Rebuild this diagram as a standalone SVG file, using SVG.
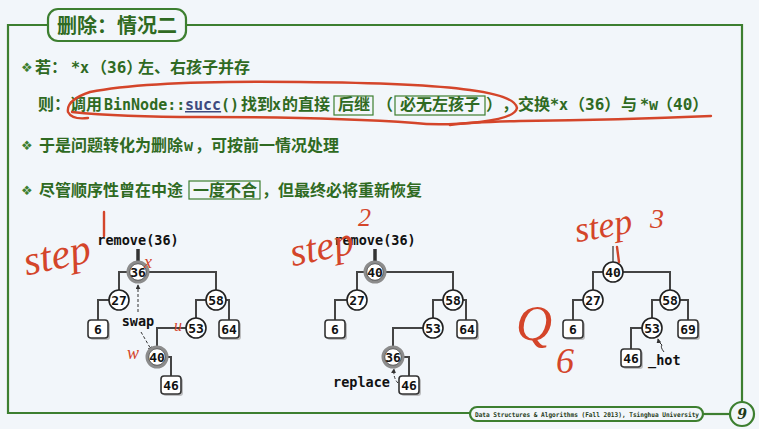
<svg xmlns="http://www.w3.org/2000/svg" width="759" height="429" viewBox="0 0 759 429">
<defs>
<style>
.frame{fill:none;stroke:#3d7f30;stroke-width:2.2}
.t{font-family:'DejaVu Sans Mono','Noto Sans CJK SC',monospace;font-weight:bold;font-size:16px;fill:#2f6a22}
.m{font-family:'DejaVu Sans Mono',monospace;font-size:15px}
.bul{font-family:'DejaVu Sans',sans-serif;font-size:13px;fill:#3d7f30}
.wbox{fill:none;stroke:#3d7f30;stroke-width:1.2}
.edge{fill:none;stroke:#444;stroke-width:2}
.c{fill:#fff;stroke:#222;stroke-width:1.6}
.cg{fill:#fff;stroke:#8c8c8c;stroke-width:3}
.cgi{fill:none;stroke:#333;stroke-width:0.8}
.b{fill:#fff;stroke:#333;stroke-width:1.6}
.bs{fill:#999;opacity:0.6}
.nt{font-family:'DejaVu Sans Mono',monospace;font-weight:bold;font-size:13px;fill:#111;text-anchor:middle}
.lbl{font-family:'DejaVu Sans Mono',monospace;font-weight:bold;font-size:13.5px;fill:#111}
.dash{fill:none;stroke:#333;stroke-width:1;stroke-dasharray:3 2}
.red{fill:none;stroke:#d4452a;stroke-width:2.4;stroke-linecap:round;stroke-linejoin:round}
.rt{font-family:'Liberation Serif',serif;font-style:italic;fill:#d4452a}
</style>
<marker id="ah" viewBox="0 0 6 6" refX="5" refY="3" markerWidth="5" markerHeight="5" orient="auto"><path d="M0,0L6,3L0,6z" fill="#333"/></marker>
</defs>
<rect width="759" height="429" fill="#f2f6fa"/>

<g id="frame">
<path class="frame" d="M48,25H8V413H470"/>
<path class="frame" d="M186,25H742V402"/>
<path class="frame" d="M703,414H730"/>
<rect class="frame" x="48" y="9" width="138" height="32" rx="10" fill="#f2f6fa"/>
<text x="57" y="33" style="font-family:'Noto Sans CJK SC',sans-serif;font-weight:bold;font-size:20px;fill:#2f6a22">删除：情况二</text>
<rect class="frame" x="470" y="407" width="233" height="14" rx="7" fill="#f2f6fa"/>
<text x="475" y="417" textLength="224" lengthAdjust="spacingAndGlyphs" style="font-family:'DejaVu Sans Mono',monospace;font-weight:bold;font-size:6.5px;fill:#1e3a17">Data Structures &amp; Algorithms (Fall 2013), Tsinghua University</text>
<circle class="frame" cx="742" cy="414" r="12" fill="#f2f6fa"/>
<text x="742" y="419" text-anchor="middle" style="font-family:'DejaVu Serif',serif;font-style:italic;font-weight:bold;font-size:14px;fill:#1e3a17">9</text>
</g>

<g id="text">
<text class="bul" x="21" y="72">❖</text>
<text class="t" y="73"><tspan x="35">若：</tspan><tspan x="71" class="m">*x</tspan><tspan x="91">（36）</tspan><tspan x="138">左、右孩子并存</tspan></text>

<rect class="wbox" x="334" y="96" width="39" height="19"/>
<rect class="wbox" x="395" y="96" width="90" height="19"/>
<text class="t" y="110"><tspan x="38">则：</tspan><tspan x="70">调用</tspan><tspan x="104" class="m">BinNode::</tspan><tspan x="185" class="m" style="fill:#3e4a7e;text-decoration:underline">succ</tspan><tspan x="221" class="m">()</tspan><tspan x="241">找到</tspan><tspan x="272" class="m">x</tspan><tspan x="282">的直接</tspan><tspan x="338">后继</tspan><tspan x="377">（</tspan><tspan x="400">必无左孩子</tspan><tspan x="486">）</tspan><tspan x="502">，</tspan><tspan x="518">交换</tspan><tspan x="550" class="m">*x</tspan><tspan x="569">（36）</tspan><tspan x="621">与</tspan><tspan x="640" class="m">*w</tspan><tspan x="657">（40）</tspan></text>

<text class="bul" x="21" y="150">❖</text>
<text class="t" y="151"><tspan x="39">于是问题转化为删除</tspan><tspan x="184" class="m">w</tspan><tspan x="195">，可按前一情况处理</tspan></text>

<rect class="wbox" x="189" y="181" width="71" height="18"/>
<text class="bul" x="21" y="195">❖</text>
<text class="t" y="196"><tspan x="39">尽管顺序性曾在中途</tspan><tspan x="193">一度不合</tspan><tspan x="262">，但最终必将重新恢复</tspan></text>
</g>

<g id="connectors">
<path d="M138,249V262" stroke="#333" stroke-width="3.5"/>
<path class="edge" d="M138,272H119V300M138,272H216V300M119,300H98V329M216,300H196V328M216,300H229V329M196,328H157V357M157,357H171V385"/>
<path class="dash" d="M138,312V285" marker-end="url(#ah)"/>
<path class="dash" d="M141,332L152,351" marker-end="url(#ah)"/>

<path d="M375,249V262" stroke="#333" stroke-width="3.5"/>
<path class="edge" d="M375,272H357V300M375,272H453V300M357,300H335V329M453,300H433V328M453,300H466V329M433,328H393V357M393,357H409V385"/>
<path class="dash" d="M398,383Q393,378 394,369" marker-end="url(#ah)"/>

<path d="M613,246V262" stroke="#555" stroke-width="1.5"/>
<path class="edge" d="M613,272H593V300M613,272H670V300M593,300H573V329M670,300H652V328M670,300H688V329M652,328H631V358"/>
<path fill="none" stroke="#333" stroke-width="1" d="M664,352Q660,347 662,345Q659,343 658,339" marker-end="url(#ah)"/>
</g>

<g id="tree1">
<text class="lbl" x="138" y="245" text-anchor="middle">remove(36)</text>
<g id="t1n36"><circle class="cg" cx="138" cy="272" r="10"/><circle class="cgi" cx="138" cy="272" r="8.3"/><text class="nt" x="138" y="277">36</text></g>
<g id="t1n27"><circle class="c" cx="119" cy="300" r="10"/><text class="nt" x="119" y="305">27</text></g>
<g id="t1n58"><circle class="c" cx="216" cy="300" r="10"/><text class="nt" x="216" y="305">58</text></g>
<g id="t1n6"><rect class="bs" x="90" y="322" width="20" height="18" rx="3"/><rect class="b" x="88" y="320" width="20" height="18" rx="3"/><text class="nt" x="98" y="334">6</text></g>
<g id="t1n53"><circle class="c" cx="196" cy="328" r="10"/><text class="nt" x="196" y="333">53</text></g>
<g id="t1n64"><rect class="bs" x="221" y="322" width="20" height="18" rx="3"/><rect class="b" x="219" y="320" width="20" height="18" rx="3"/><text class="nt" x="229" y="334">64</text></g>
<g id="t1n40"><circle class="cg" cx="157" cy="357" r="10"/><circle class="cgi" cx="157" cy="357" r="8.3"/><text class="nt" x="157" y="362">40</text></g>
<g id="t1n46"><rect class="bs" x="163" y="378" width="20" height="18" rx="3"/><rect class="b" x="161" y="376" width="20" height="18" rx="3"/><text class="nt" x="171" y="390">46</text></g>
<text class="lbl" x="138" y="326" text-anchor="middle">swap</text>
</g>

<g id="tree2">
<text class="lbl" x="375" y="245" text-anchor="middle">remove(36)</text>
<g id="t2n40"><circle class="cg" cx="375" cy="272" r="10"/><circle class="cgi" cx="375" cy="272" r="8.3"/><text class="nt" x="375" y="277">40</text></g>
<g id="t2n27"><circle class="c" cx="357" cy="300" r="10"/><text class="nt" x="357" y="305">27</text></g>
<g id="t2n58"><circle class="c" cx="453" cy="300" r="10"/><text class="nt" x="453" y="305">58</text></g>
<g id="t2n6"><rect class="bs" x="327" y="322" width="20" height="18" rx="3"/><rect class="b" x="325" y="320" width="20" height="18" rx="3"/><text class="nt" x="335" y="334">6</text></g>
<g id="t2n53"><circle class="c" cx="433" cy="328" r="10"/><text class="nt" x="433" y="333">53</text></g>
<g id="t2n64"><rect class="bs" x="459" y="322" width="20" height="18" rx="3"/><rect class="b" x="457" y="320" width="20" height="18" rx="3"/><text class="nt" x="467" y="334">64</text></g>
<g id="t2n36"><circle class="cg" cx="393" cy="357" r="10"/><circle class="cgi" cx="393" cy="357" r="8.3"/><text class="nt" x="393" y="362">36</text></g>
<g id="t2n46"><rect class="bs" x="401" y="378" width="20" height="18" rx="3"/><rect class="b" x="399" y="376" width="20" height="18" rx="3"/><text class="nt" x="409" y="390">46</text></g>
<text class="lbl" x="333" y="387">replace</text>
</g>

<g id="tree3">
<g id="t3n40"><circle class="c" cx="613" cy="272" r="10"/><text class="nt" x="613" y="277">40</text></g>
<g id="t3n27"><circle class="c" cx="593" cy="300" r="10"/><text class="nt" x="593" y="305">27</text></g>
<g id="t3n58"><circle class="c" cx="670" cy="300" r="10"/><text class="nt" x="670" y="305">58</text></g>
<g id="t3n6"><rect class="bs" x="565" y="322" width="20" height="18" rx="3"/><rect class="b" x="563" y="320" width="20" height="18" rx="3"/><text class="nt" x="573" y="334">6</text></g>
<g id="t3n53"><circle class="c" cx="652" cy="328" r="10"/><text class="nt" x="652" y="333">53</text></g>
<g id="t3n69"><rect class="bs" x="680" y="322" width="20" height="18" rx="3"/><rect class="b" x="678" y="320" width="20" height="18" rx="3"/><text class="nt" x="688" y="334">69</text></g>
<g id="t3n46"><rect class="bs" x="623" y="351" width="20" height="18" rx="3"/><rect class="b" x="621" y="349" width="20" height="18" rx="3"/><text class="nt" x="631" y="363">46</text></g>
<text class="lbl" x="648" y="365">_hot</text>
</g>

<g id="annotations">
<path class="red" d="M88,118Q72,120 68,112Q66,100 90,92Q150,80 300,82Q420,83 470,90Q515,96 517,108Q515,118 480,122Q440,126 415,123Q330,117 200,117Q120,117 72,112"/>
<path class="red" d="M450,125Q470,122 520,121Q620,120 711,116"/>
<text class="rt" x="22" y="268" font-size="42" transform="rotate(-12 60 250)">step</text>
<path class="red" d="M104,212V236"/>
<text class="rt" x="288" y="258" font-size="40" transform="rotate(-12 330 240)">step</text>
<text class="rt" x="358" y="226" font-size="26">2</text>
<text class="rt" x="574" y="238" font-size="36" transform="rotate(-10 600 225)">step</text>
<text class="rt" x="650" y="228" font-size="28">3</text>
<path class="red" d="M617,247L619,262"/>
<text class="rt" x="144" y="268" font-size="18">x</text>
<text class="rt" x="174" y="331" font-size="16">u</text>
<text class="rt" x="127" y="359" font-size="18">w</text>
<text class="rt" x="516" y="340" font-size="50">Q</text>
<text class="rt" x="556" y="373" font-size="36">6</text>
</g>
</svg>
